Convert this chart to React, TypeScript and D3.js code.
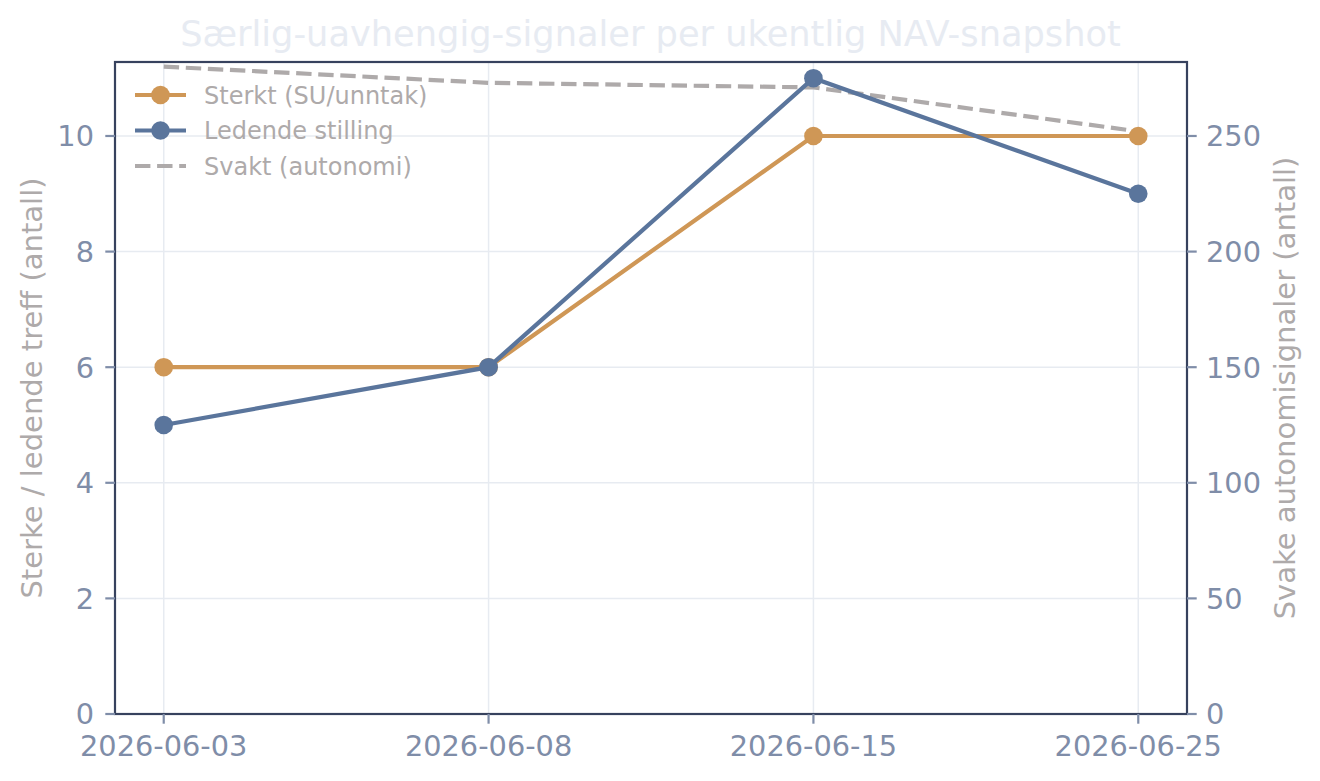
import React from "react";
import * as d3 from "d3";

const dates = ["2026-06-03", "2026-06-08", "2026-06-15", "2026-06-25"];
const sterkt = [6, 6, 10, 10];
const ledende = [5, 6, 11, 9];
const svakt = [280, 273, 271, 252];
const leftTicks = [0, 2, 4, 6, 8, 10];
const rightTicks = [0, 50, 100, 150, 200, 250];

const W = 1320;
const H = 781;
const M = { left: 115, right: 1187, top: 62, bottom: 714 };
const FONT = "DejaVu Sans";
const C_ORANGE = "#CF9756";
const C_BLUE = "#5A759C";
const C_GREY = "#AEAAAA";
const C_TICK = "#7F8DA8";
const C_SPINE = "#37425E";
const C_GRID = "#E7EBF1";
const C_LABEL = "#AEAAAA";
const TICK_FS = 28.8;

export default function App() {
  const x = d3.scaleLinear().domain([-0.15, 3.15]).range([M.left, M.right]);
  const yL = d3.scaleLinear().domain([0, 11.28]).range([M.bottom, M.top]);
  const yR = d3.scaleLinear().domain([0, 282]).range([M.bottom, M.top]);

  const lineL = d3
    .line<number>()
    .x((_, i) => x(i))
    .y((d) => yL(d));
  const lineR = d3
    .line<number>()
    .x((_, i) => x(i))
    .y((d) => yR(d));

  const legend = [
    { label: "Sterkt (SU/unntak)", color: C_ORANGE, dashed: false },
    { label: "Ledende stilling", color: C_BLUE, dashed: false },
    { label: "Svakt (autonomi)", color: C_GREY, dashed: true },
  ];

  return (
    <svg
      width={W}
      height={H}
      style={{ position: "absolute", left: 0, top: 0, background: "#fff" }}
      fontFamily={FONT}
    >
      <rect x={0} y={0} width={W} height={H} fill="#fff" />
      {/* title */}
      <text
        x={(M.left + M.right) / 2 - 0.5}
        y={46}
        textAnchor="middle"
        fontSize={35.2}
        fill="#E7EBF2"
      >
        Særlig-uavhengig-signaler per ukentlig NAV-snapshot
      </text>

      {/* grid */}
      {dates.map((_, i) => (
        <line
          key={"gx" + i}
          x1={x(i)}
          x2={x(i)}
          y1={M.top}
          y2={M.bottom}
          stroke={C_GRID}
          strokeWidth={1.5}
        />
      ))}
      {leftTicks.map((t) => (
        <line
          key={"gy" + t}
          x1={M.left}
          x2={M.right}
          y1={yL(t)}
          y2={yL(t)}
          stroke={C_GRID}
          strokeWidth={1.5}
        />
      ))}

      {/* svakt dashed (right axis) */}
      <path
        d={lineR(svakt) || ""}
        fill="none"
        stroke={C_GREY}
        strokeWidth={4.2}
        strokeDasharray="15.4 6.7"
      />

      {/* sterkt */}
      <path d={lineL(sterkt) || ""} fill="none" stroke={C_ORANGE} strokeWidth={4.2} />
      {sterkt.map((v, i) => (
        <circle key={"s" + i} cx={x(i)} cy={yL(v)} r={9.3} fill={C_ORANGE} />
      ))}
      {/* ledende */}
      <path d={lineL(ledende) || ""} fill="none" stroke={C_BLUE} strokeWidth={4.2} />
      {ledende.map((v, i) => (
        <circle key={"l" + i} cx={x(i)} cy={yL(v)} r={9.3} fill={C_BLUE} />
      ))}

      {/* spines */}
      <rect
        x={M.left}
        y={M.top}
        width={M.right - M.left}
        height={M.bottom - M.top}
        fill="none"
        stroke={C_SPINE}
        strokeWidth={2.2}
      />

      {/* left ticks */}
      {leftTicks.map((t) => (
        <g key={"lt" + t}>
          <line x1={M.left - 9.7} x2={M.left} y1={yL(t)} y2={yL(t)} stroke={C_TICK} strokeWidth={2.2} />
          <text
            x={M.left - 21}
            y={yL(t)}
            dy="0.36em"
            textAnchor="end"
            fontSize={TICK_FS}
            fill={C_TICK}
          >
            {t}
          </text>
        </g>
      ))}
      {/* right ticks */}
      {rightTicks.map((t) => (
        <g key={"rt" + t}>
          <line x1={M.right} x2={M.right + 9.7} y1={yR(t)} y2={yR(t)} stroke={C_TICK} strokeWidth={2.2} />
          <text
            x={M.right + 19}
            y={yR(t)}
            dy="0.36em"
            textAnchor="start"
            fontSize={TICK_FS}
            fill={C_TICK}
          >
            {t}
          </text>
        </g>
      ))}
      {/* x ticks */}
      {dates.map((d, i) => (
        <g key={"xt" + i}>
          <line x1={x(i)} x2={x(i)} y1={M.bottom} y2={M.bottom + 9.7} stroke={C_TICK} strokeWidth={2.2} />
          <text x={x(i)} y={756} textAnchor="middle" fontSize={TICK_FS} fill={C_TICK}>
            {d}
          </text>
        </g>
      ))}

      {/* axis labels */}
      <text
        transform={`translate(42, ${(M.top + M.bottom) / 2}) rotate(-90)`}
        textAnchor="middle"
        fontSize={29}
        fill={C_LABEL}
      >
        Sterke / ledende treff (antall)
      </text>
      <text
        transform={`translate(1295, ${(M.top + M.bottom) / 2}) rotate(-90)`}
        textAnchor="middle"
        fontSize={29}
        fill={C_LABEL}
      >
        Svake autonomisignaler (antall)
      </text>

      {/* legend */}
      {legend.map((l, i) => {
        const cy = 95 + i * 35.5;
        return (
          <g key={"lg" + i}>
            <line
              x1={135}
              x2={186}
              y1={cy}
              y2={cy}
              stroke={l.color}
              strokeWidth={4.2}
              strokeDasharray={l.dashed ? "15.4 6.7" : undefined}
            />
            {!l.dashed && <circle cx={160.5} cy={cy} r={9.3} fill={l.color} />}
            <text x={204} y={cy} dy="0.36em" fontSize={24} fill={C_LABEL}>
              {l.label}
            </text>
          </g>
        );
      })}
    </svg>
  );
}
